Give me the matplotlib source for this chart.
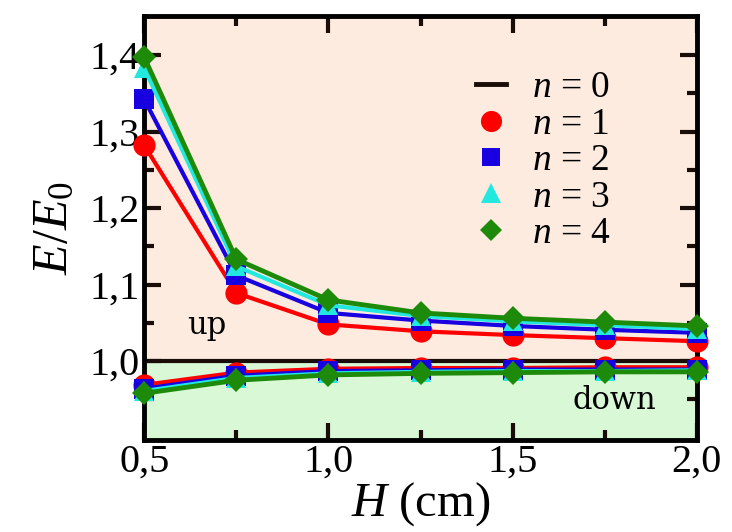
import numpy as np
import matplotlib
matplotlib.use("Agg")
import matplotlib.pyplot as plt
from matplotlib.lines import Line2D

plt.rcParams['font.family'] = 'Liberation Serif'
plt.rcParams['mathtext.fontset'] = 'custom'
plt.rcParams['mathtext.rm'] = 'Liberation Serif'
plt.rcParams['mathtext.it'] = 'Liberation Serif:italic'

# depth H in cm
H = [0.5, 0.75, 1.0, 1.25, 1.5, 1.75, 2.0]

# upper branch E/E0 for modes n = 1..4
up_n1 = [1.282, 1.089, 1.048, 1.039, 1.034, 1.030, 1.026]
up_n2 = [1.342, 1.112, 1.063, 1.053, 1.046, 1.041, 1.037]
up_n3 = [1.383, 1.124, 1.073, 1.059, 1.052, 1.047, 1.042]
up_n4 = [1.397, 1.133, 1.080, 1.063, 1.056, 1.051, 1.046]

# lower branch
down_n1 = [0.969, 0.985, 0.990, 0.991, 0.991, 0.992, 0.992]
down_n2 = [0.964, 0.981, 0.987, 0.988, 0.989, 0.989, 0.989]
down_n3 = [0.961, 0.978, 0.984, 0.986, 0.987, 0.987, 0.988]
down_n4 = [0.958, 0.975, 0.982, 0.984, 0.985, 0.986, 0.986]

xticks = [0.5, 1.0, 1.5, 2.0]
xtick_labels = ['0,5', '1,0', '1,5', '2,0']
yticks = [1.0, 1.1, 1.2, 1.3, 1.4]
ytick_labels = ['1,0', '1,1', '1,2', '1,3', '1,4']

ymin, ymax = 0.897, 1.451

fig = plt.figure(figsize=(7.32, 5.32), dpi=100)
ax = fig.add_axes([0.197, 0.173, 0.755, 0.797])

ax.axhspan(1.0, ymax, color='#fdebdf', zorder=0)
ax.axhspan(ymin, 1.0, color='#d8f8d6', zorder=0)

styles = [
    ('#ff0000', 'o', 16, 3.0, up_n1, down_n1),
    ('#1800e0', 's', 14, 3.0, up_n2, down_n2),
    ('#22e8e0', '^', 15, 3.0, up_n3, down_n3),
    ('#1e8a0a', 'D', 12, 3.5, up_n4, down_n4),
]

ax.axhline(1.0, color='#1a0d08', lw=3, zorder=2)

handles = [Line2D([], [], color='#1a0d08', lw=3.5)]
labels = [r'$n$ = 0']
for i, (col, mk, ms, lw, up, down) in enumerate(styles):
    ax.plot(H, up, color=col, marker=mk, ms=ms, lw=lw, mew=0,
            clip_on=False, zorder=3 + i)
    ax.plot(H, down, color=col, marker=mk, ms=ms, lw=lw, mew=0,
            clip_on=False, zorder=3 + i)
    handles.append(Line2D([], [], color=col, marker=mk, ms=ms * 0.95,
                          mew=0, ls='none'))
    labels.append(r'$n$ = %d' % (i + 1))

ax.text(0.671, 1.047, 'up', fontsize=22, family='DejaVu Serif',
        ha='center', va='center')
ax.text(1.775, 0.949, 'down', fontsize=22, family='DejaVu Serif',
        ha='center', va='center')

ax.set_xlim(0.5, 2.0)
ax.set_ylim(ymin, ymax)
ax.set_xticks(xticks)
ax.set_xticklabels(xtick_labels)
ax.set_xticks([0.75, 1.25, 1.75], minor=True)
ax.set_yticks(yticks)
ax.set_yticklabels(ytick_labels)
ax.set_yticks([0.95, 1.05, 1.15, 1.25, 1.35], minor=True)

ax.tick_params(which='both', direction='in', top=True, right=True,
               labelsize=29, width=3, color='#1a0d08')
ax.tick_params(which='major', length=12, pad=3)
ax.tick_params(which='minor', length=7)
for sp in ax.spines.values():
    sp.set_linewidth(3.5)
    sp.set_color('black')

ax.set_xlabel(r'$H$ (cm)', fontsize=35, labelpad=-1)
ax.set_ylabel(r'$E/E_\mathit{0}$', fontsize=36, labelpad=8)

ax.legend(handles, labels, loc='upper right', bbox_to_anchor=(0.905, 0.95),
          frameon=False, fontsize=27, handlelength=0.8, handletextpad=0.7,
          labelspacing=0.05)

fig.savefig('out.png', dpi=100)
